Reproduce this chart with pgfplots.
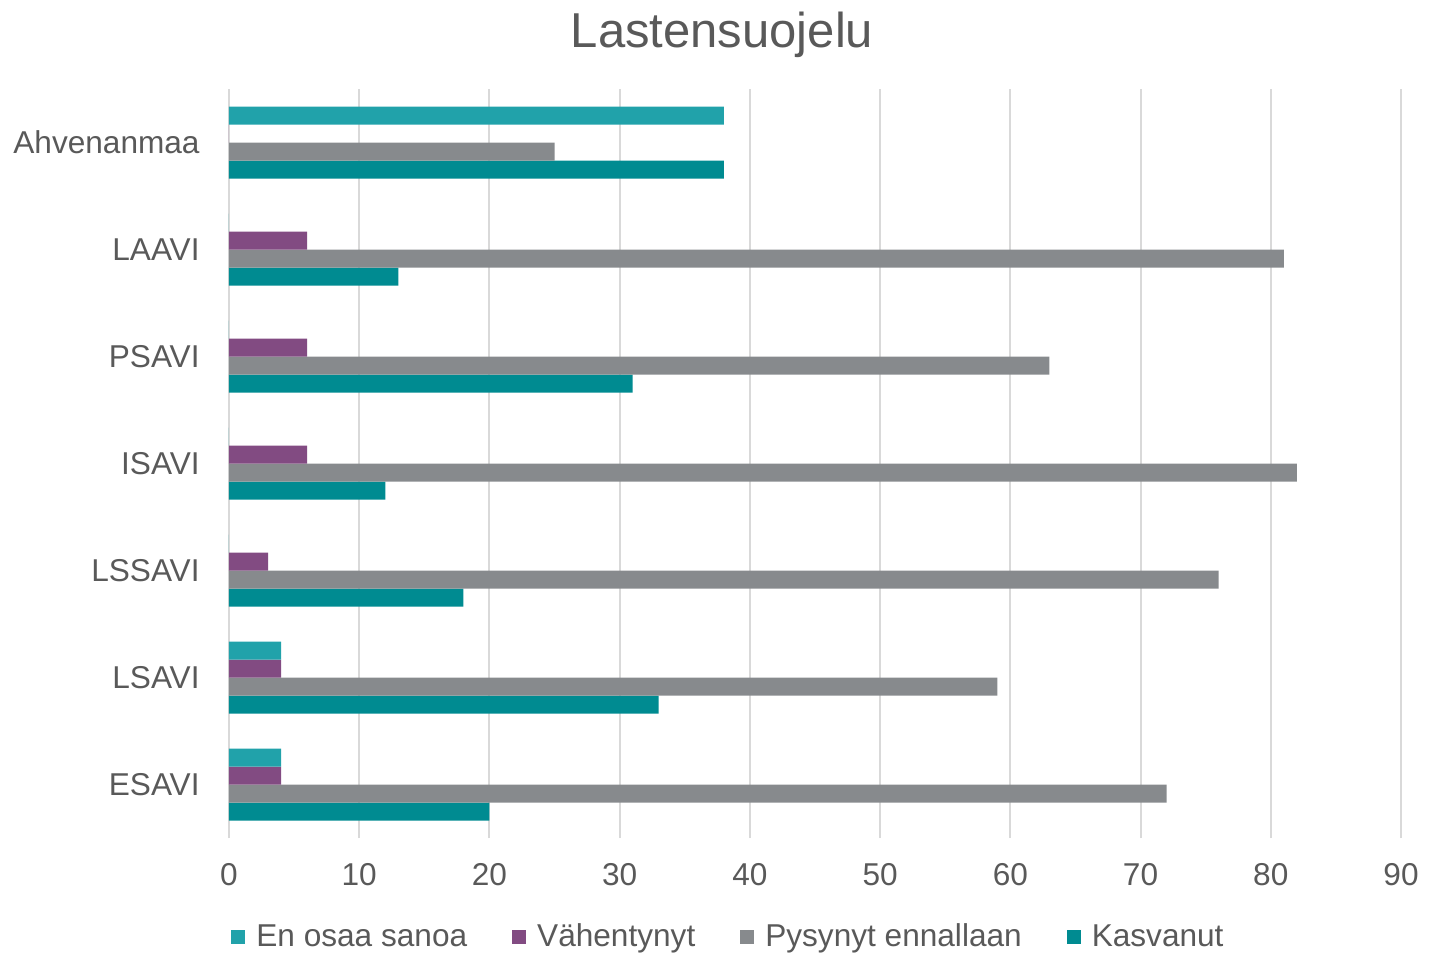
\documentclass[border=0pt]{standalone}
\usepackage{pgfplots}
\pgfplotsset{compat=1.18}
\usepackage{fontspec}
\setmainfont{Liberation Sans}

\definecolor{enos}{HTML}{21A2AA}
\definecolor{vahe}{HTML}{824B82}
\definecolor{pysy}{HTML}{878A8D}
\definecolor{kasv}{HTML}{008B91}
\definecolor{textc}{HTML}{595959}
\definecolor{gridc}{HTML}{D9D9D9}

\begin{document}
\begin{tikzpicture}
\useasboundingbox (-114.5pt,-57.5pt) rectangle (600pt,419pt);
\begin{axis}[
  at={(0,0)}, anchor=south west,
  scale only axis,
  width=586pt, height=374.5pt,
  xbar=0pt, bar width=9pt,
  xmin=0, xmax=90,
  ymin=-0.5, ymax=6.5,
  xtick={0,10,...,90},
  ytick={0,...,6},
  yticklabels={ESAVI,LSAVI,LSSAVI,ISAVI,PSAVI,LAAVI,Ahvenanmaa},
  xmajorgrids,
  grid style={draw=gridc, line width=1pt},
  axis line style={draw=none},
  major tick length=0pt,
  /pgf/number format/assume math mode=true,
  tick label style={font=\fontsize{15.8}{19}\selectfont, text=textc},
  xticklabel style={anchor=center, yshift=-18.5pt},
  yticklabel style={anchor=east, inner sep=0pt, xshift=-14.5pt},
  legend columns=-1,
  reverse legend,
  legend style={
    at={(axis description cs:0.0017,-0.1322)}, anchor=west,
    draw=none, fill=none, inner xsep=0pt, inner ysep=0pt,
    font=\fontsize{15.8}{19}\selectfont, text=textc,
    nodes={inner sep=0pt},
    /tikz/every odd column/.append style={column sep=5.5pt},
    /tikz/every even column/.append style={column sep=22.5pt},
  },
  legend image code/.code={\fill (0pt,-3.5pt) rectangle (7pt,3.5pt);},
]
% order: bottom bar first
\addplot[draw=none, fill=kasv] coordinates {(20,0) (33,1) (18,2) (12,3) (31,4) (13,5) (38,6)};
\addplot[draw=none, fill=pysy] coordinates {(72,0) (59,1) (76,2) (82,3) (63,4) (81,5) (25,6)};
\addplot[draw=none, fill=vahe] coordinates {(4,0) (4,1) (3,2) (6,3) (6,4) (6,5) (0,6)};
\addplot[draw=none, fill=enos] coordinates {(4,0) (4,1) (0,2) (0,3) (0,4) (0,5) (38,6)};
\legend{Kasvanut, Pysynyt ennallaan, Vähentynyt, En osaa sanoa}
\end{axis}
\node[anchor=base, font=\fontsize{24.5}{29}\selectfont, text=textc] at (246.5pt,395pt) {Lastensuojelu};
\end{tikzpicture}
\end{document}
